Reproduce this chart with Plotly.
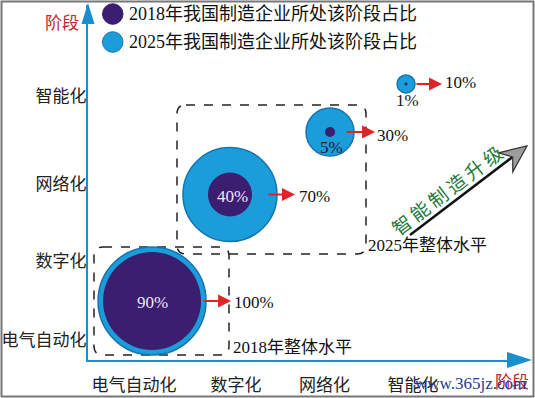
import math
import plotly.graph_objects as go

# ---------------- data ----------------
stages = ["电气自动化", "数字化", "网络化", "智能化"]
share_2018 = [90, 40, 5, 1]
share_2025 = [100, 70, 30, 10]
legend_labels = ["2018年我国制造企业所处该阶段占比", "2025年我国制造企业所处该阶段占比"]
group_labels = ["2018年整体水平", "2025年整体水平"]
axis_title = "阶段"
trend_label = "智能制造升级"
watermark = "www.365jz.com"

# ---------------- layout helpers (positions in axis units / pixels) ----------------
x_tick_pos = [0, 1.097, 2.048, 3]
y_tick_pos = [0, 0.965, 1.912, 3]
bubble_x = [0.194, 1.032, 2.108, 2.925]
bubble_y = [0.480, 1.789, 2.557, 3.148]
outer_d = [108, 94, 48, 18]
inner_d = [98, 44, 10, 3]

W, H = 535, 398
L, R, T, B = 88, 10, 5, 38
PW, PH = W - L - R, H - T - B
XU, X0 = 93.0, 134.0      # px per x unit, px of x=0
YU, Y0 = 81.33, 340.0     # px per y unit, px of y=0

def PX(x):
    return (x - L) / PW

def PY(y):
    return (H - B - y) / PH

def P(x, y):
    return f"{PX(x):.5f},{PY(y):.5f}"

SERIF = "Liberation Serif, Noto Sans CJK SC, serif"
BLUE = "#1b9dd9"
BLUE_EDGE = "#1574b3"
PURPLE = "#3b1e70"
RED = "#e02326"
AXIS_BLUE = "#1a8fd0"

fig = go.Figure()

# 2025 (outer) bubbles
fig.add_trace(go.Scatter(
    x=bubble_x, y=bubble_y, mode="markers", cliponaxis=False,
    marker=dict(size=outer_d, color=BLUE, opacity=1, line=dict(color=BLUE_EDGE, width=1.5)),
    hoverinfo="skip", name=legend_labels[1]))
# 2018 (inner) bubbles
fig.add_trace(go.Scatter(
    x=bubble_x, y=bubble_y, mode="markers", cliponaxis=False,
    marker=dict(size=inner_d, color=PURPLE, opacity=1, line=dict(width=0)),
    hoverinfo="skip", name=legend_labels[0]))

annotations = []
shapes = []

def note(x, y, text, size=17, color="#111", xanchor="center", **kw):
    annotations.append(dict(x=PX(x), y=PY(y), xref="paper", yref="paper", text=text,
                            showarrow=False, xanchor=xanchor, yanchor="middle",
                            font=dict(family=SERIF, size=size, color=color), **kw))

# arrows and labels
arrow_tail = [50, 37, 15, 9]
arrow_head = [79, 65, 45, 36]
lab25_dx = [80, 67, 45, 37]
lab25_dy = [2, 2, 3, -1]
lab18_dx = [0, 3, 1, 1]
lab18_dy = [2, 1.5, 15, 17]
for i in range(len(stages)):
    bx, by = bubble_x[i], bubble_y[i]
    annotations.append(dict(
        x=bx + arrow_head[i] / XU, y=by, xref="x", yref="y",
        ax=bx + arrow_tail[i] / XU, ay=by, axref="x", ayref="y",
        text="", showarrow=True, arrowhead=2, arrowsize=1.3,
        arrowwidth=2, arrowcolor=RED, standoff=0, startstandoff=0))
    annotations.append(dict(
        x=bx, y=by, xref="x", yref="y", xshift=lab25_dx[i], yshift=-lab25_dy[i],
        text=f"{share_2025[i]}%", showarrow=False, xanchor="left", yanchor="middle",
        font=dict(family=SERIF, size=17, color="#111")))
    annotations.append(dict(
        x=bx, y=by, xref="x", yref="y", xshift=lab18_dx[i], yshift=-lab18_dy[i],
        text=f"{share_2018[i]}%", showarrow=False, xanchor="center", yanchor="middle",
        font=dict(family=SERIF, size=17,
                  color="#ece6f6" if inner_d[i] > 30 else "#1a1a2a")))

# dashed rounded group boxes
def rrect(x0, y0, x1, y1, r):
    return (f"M{P(x0 + r, y0)} L{P(x1 - r, y0)} Q{P(x1, y0)} {P(x1, y0 + r)} "
            f"L{P(x1, y1 - r)} Q{P(x1, y1)} {P(x1 - r, y1)} L{P(x0 + r, y1)} "
            f"Q{P(x0, y1)} {P(x0, y1 - r)} L{P(x0, y0 + r)} Q{P(x0, y0)} {P(x0 + r, y0)} Z")

for (x0, y0, x1, y1) in [(94, 247, 229, 355), (177, 105, 366, 254)]:
    shapes.append(dict(type="path", xref="paper", yref="paper", path=rrect(x0, y0, x1, y1, 9),
                       line=dict(color="#222", width=1.5, dash="dash"), layer="below"))

note(231, 347, group_labels[0], xanchor="left")
note(366, 245, group_labels[1], xanchor="left")

# axis arrowheads
shapes.append(dict(type="path", xref="paper", yref="paper",
                   path=f"M{P(88, 3)} L{P(94.5, 24)} L{P(81.5, 24)} Z",
                   fillcolor=AXIS_BLUE, line=dict(width=0)))
shapes.append(dict(type="path", xref="paper", yref="paper",
                   path=f"M{P(532, 360)} L{P(507, 352)} L{P(507, 368)} Z",
                   fillcolor=AXIS_BLUE, line=dict(width=0)))

note(62, 23, axis_title, color="#c1272d")
note(512, 383, axis_title, color="#c1272d")

# legend
legend_cols = [PURPLE, BLUE]
legend_y = [14, 42]
for lab, col, ly in zip(legend_labels, legend_cols, legend_y):
    shapes.append(dict(type="circle", xref="paper", yref="paper",
                       x0=PX(102.5), x1=PX(123), y0=PY(ly + 10.3), y1=PY(ly - 10.3),
                       fillcolor=col, line=dict(color=BLUE_EDGE if col == BLUE else col, width=1)))
    note(127, ly, lab, size=18, xanchor="left")

# upgrade arrow
tip = (527, 146)
tail = (410, 235)
dx, dy = tip[0] - tail[0], tip[1] - tail[1]
ln = math.hypot(dx, dy)
ux, uy = dx / ln, dy / ln
nx, ny = -uy, ux
hl, hw, notch = 27, 12, 18
bc = (tip[0] - hl * ux, tip[1] - hl * uy)
c1 = (bc[0] + hw * nx, bc[1] + hw * ny)
c2 = (bc[0] - hw * nx, bc[1] - hw * ny)
nt = (tip[0] - notch * ux, tip[1] - notch * uy)
shapes.append(dict(type="line", xref="paper", yref="paper",
                   x0=PX(tail[0]), y0=PY(tail[1]), x1=PX(nt[0]), y1=PY(nt[1]),
                   line=dict(color="#111", width=2.5)))
shapes.append(dict(type="path", xref="paper", yref="paper",
                   path=f"M{P(*tip)} L{P(*c1)} L{P(*nt)} L{P(*c2)} Z",
                   fillcolor="#9c9c9c", line=dict(color="#333", width=1.2)))
angle = math.degrees(math.atan2(dy, dx))
note(447, 191, "\u2009".join(trend_label), size=19, color="#1f7a3a", textangle=angle)

# watermark
note(470, 384, watermark, size=17, color="#1e3c8c")

# frame
shapes.append(dict(type="rect", xref="paper", yref="paper",
                   x0=PX(1.5), x1=PX(533.5), y0=PY(396.5), y1=PY(1.5),
                   line=dict(color="#777", width=2)))

fig.update_layout(
    width=W, height=H,
    margin=dict(l=L, r=R, t=T, b=B),
    paper_bgcolor="white", plot_bgcolor="white",
    showlegend=False,
    xaxis=dict(range=[(L - X0) / XU, (W - R - X0) / XU], tickvals=x_tick_pos, ticktext=stages,
               showgrid=False, zeroline=False, showline=True, linecolor=AXIS_BLUE, linewidth=2,
               ticks="", ticklabelstandoff=9, automargin=False,
               tickfont=dict(family=SERIF, size=17, color="#222"), fixedrange=True),
    yaxis=dict(range=[(Y0 - (H - B)) / YU, (Y0 - T) / YU], tickvals=y_tick_pos, ticktext=stages,
               showgrid=False, zeroline=False, showline=True, linecolor=AXIS_BLUE, linewidth=2,
               ticks="", ticklabelstandoff=-4, automargin=False,
               tickfont=dict(family=SERIF, size=17, color="#222"), fixedrange=True),
    shapes=shapes, annotations=annotations,
)

fig.write_html("out.html", config={"displayModeBar": False},
               post_script="document.body.style.margin='0px';document.body.style.overflow='hidden';")
